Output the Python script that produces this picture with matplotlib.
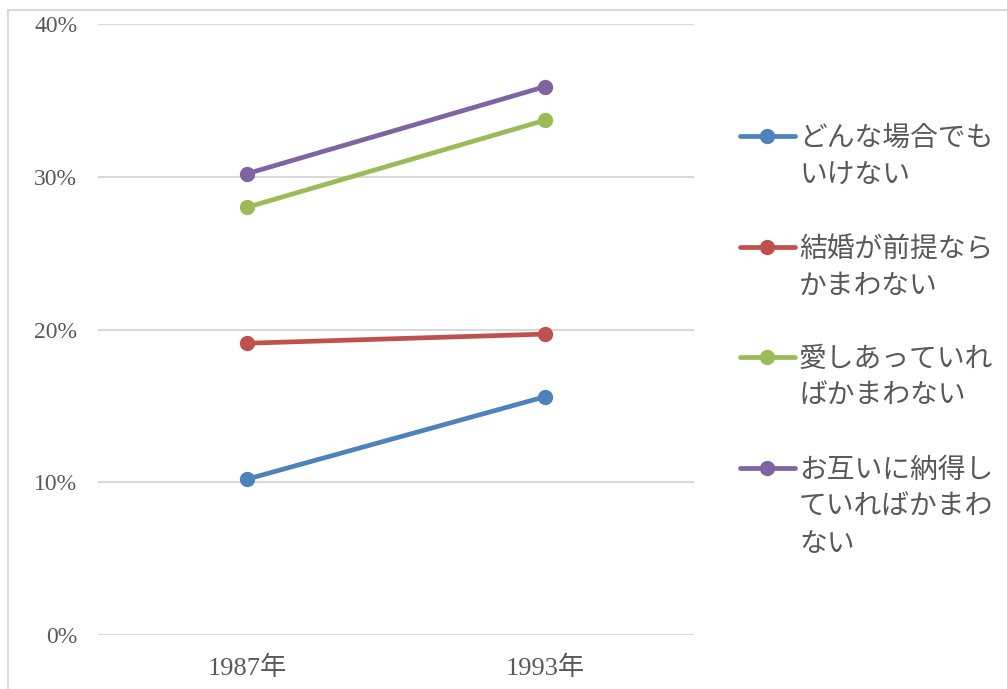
import matplotlib
matplotlib.use("Agg")
import matplotlib.pyplot as plt
from matplotlib.lines import Line2D
from matplotlib.patches import Rectangle

categories = ["1987年", "1993年"]
series_names = ["どんな場合でも\nいけない", "結婚が前提なら\nかまわない", "愛しあっていれ\nばかまわない", "お互いに納得し\nていればかまわ\nない"]
s_any = [10.2, 15.6]
s_marriage = [19.1, 19.7]
s_love = [28.0, 33.7]
s_agree = [30.2, 35.9]
yticks = [0, 10, 20, 30, 40]
ytick_labels = ["0%", "10%", "20%", "30%", "40%"]

colors = ["#4f81bd", "#c0504d", "#9bbb59", "#8064a2"]
values = [s_any, s_marriage, s_love, s_agree]

W, H = 1007, 689
fig = plt.figure(figsize=(W / 100, H / 100), dpi=100)
fig.patch.set_facecolor("white")
fig.add_artist(Rectangle((8 / W, -0.05), 1.1, 1 - 10 / H + 0.05, transform=fig.transFigure,
                         fill=False, edgecolor="#d9d9d9", linewidth=1.5))

ax = fig.add_axes([98 / W, 1 - 635 / H, (694 - 98) / W, (635 - 24) / H])
x = list(range(len(categories)))
for vals, c in zip(values, colors):
    ax.plot(x, vals, color=c, linewidth=3.4, marker="o", markersize=10,
            solid_capstyle="round", zorder=3)

ax.set_xlim(-0.5, 1.5)
ax.set_ylim(0, 40)
ax.set_yticks(yticks)
ax.set_yticklabels(ytick_labels)
ax.set_xticks(x)
ax.set_xticklabels(categories)
ax.grid(axis="y", color="#d9d9d9", linewidth=1.5, zorder=0)
for s in ax.spines.values():
    s.set_visible(False)
ax.tick_params(length=0, colors="#595959")
ax.tick_params(axis="y", pad=15, labelsize=17)
ax.tick_params(axis="x", pad=15, labelsize=19)
fam = ["Liberation Serif", "Noto Sans CJK JP"]
for lab in ax.get_xticklabels() + ax.get_yticklabels():
    lab.set_family(fam)
    lab.set_color("#595959")

# legend
ys = [136, 247, 357, 468]
for name, c, yy in zip(series_names, colors, ys):
    fy = 1 - yy / H
    fig.add_artist(Line2D([740 / W, 795 / W], [fy, fy], transform=fig.transFigure,
                          color=c, linewidth=3.4, solid_capstyle="round"))
    fig.add_artist(Line2D([767 / W], [fy], transform=fig.transFigure, color=c,
                          marker="o", markersize=10, linestyle="none"))
    fig.text(799 / W, 1 - (yy - 13) / H, name, transform=fig.transFigure,
             ha="left", va="top", fontsize=20, color="#595959",
             family=["Noto Sans CJK JP"], linespacing=1.3)

fig.savefig("out.png", dpi=100)
